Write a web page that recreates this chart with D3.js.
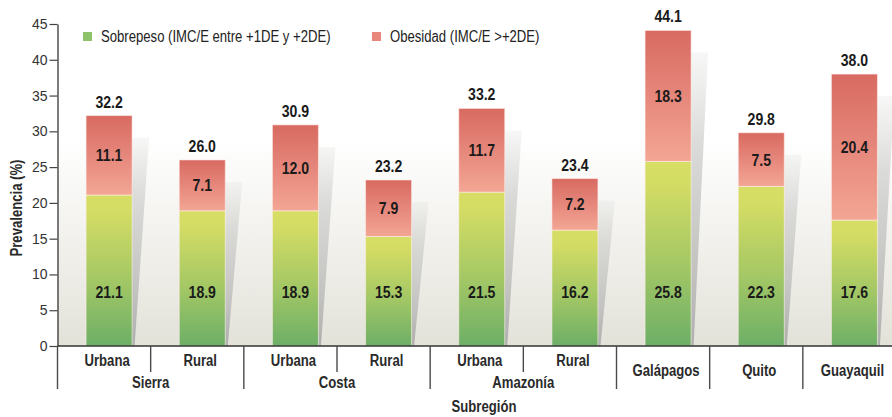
<!DOCTYPE html>
<html>
<head>
<meta charset="utf-8">
<script src="https://cdn.jsdelivr.net/npm/d3@7"></script>
<style>
  html, body { margin: 0; padding: 0; background: #fff; }
  svg { display: block; }
  text { font-family: "Liberation Sans", Arial, Helvetica, sans-serif; }
</style>
</head>
<body>
<svg id="chart" width="892" height="417"></svg>
<script>
// Prevalencia de sobrepeso y obesidad por subregión
const subregions = ["Urbana", "Rural", "Urbana", "Rural", "Urbana", "Rural", "Galápagos", "Quito", "Guayaquil"];
const regions = ["Sierra", "Sierra", "Costa", "Costa", "Amazonía", "Amazonía", null, null, null];
const sobrepeso = [21.1, 18.9, 18.9, 15.3, 21.5, 16.2, 25.8, 22.3, 17.6];
const obesidad = [11.1, 7.1, 12.0, 7.9, 11.7, 7.2, 18.3, 7.5, 20.4];
const totals = [32.2, 26.0, 30.9, 23.2, 33.2, 23.4, 44.1, 29.8, 38.0];
const yTicks = [0, 5, 10, 15, 20, 25, 30, 35, 40, 45];
const seriesNames = ["Sobrepeso (IMC/E entre +1DE y +2DE)", "Obesidad (IMC/E >+2DE)"];
const yTitle = "Prevalencia (%)";
const xTitle = "Subregión";

const W = 892, H = 417;
const axisX = 57.5;
const svg = d3.select("#chart");
const defs = svg.append("defs");

const y = d3.scaleLinear().domain([0, 45]).range([346, 24]);
const x = d3.scaleBand().domain(d3.range(subregions.length)).range([axisX, 896]).padding(0);
const barW = 46;
const barLeft = i => x(i) + (x.bandwidth() - barW) / 2 + 5;
const barMid = i => barLeft(i) + barW / 2;

// narrow type: regular sans squeezed horizontally
function narrow(sel, px, py, sx) {
  return sel.attr("x", 0).attr("y", 0)
    .attr("transform", function (d, i) {
      return `translate(${typeof px === "function" ? px(d, i) : px},${typeof py === "function" ? py(d, i) : py}) scale(${sx},1)`;
    });
}

// gradients
function vGrad(id, stops, units) {
  const g = defs.append("linearGradient").attr("id", id)
    .attr("x1", 0).attr("x2", 0).attr("y1", 0).attr("y2", 1);
  if (units) g.attr("gradientUnits", units);
  stops.forEach(([o, c, op]) => g.append("stop").attr("offset", o).attr("stop-color", c)
    .attr("stop-opacity", op === undefined ? 1 : op));
  return g;
}
vGrad("gGreen", [[0, "#d7de65"], [0.12, "#d3dc64"], [0.55, "#a5c865"], [1, "#6daf67"]]);
vGrad("gRed", [[0, "#d86a61"], [0.5, "#e6877b"], [1, "#f3a694"]]);
vGrad("gShadow", [[0, "#d6d6d4", 0.2], [0.3, "#d0d0ce", 0.75], [0.75, "#c2c2c0", 1], [1, "#aeaeac", 1]]);
vGrad("gBack", [[0, "#ffffff"], [0.4, "#ffffff"], [0.75, "#efeee9"], [1, "#e3e2d9"]], "userSpaceOnUse")
  .attr("y1", 0).attr("y2", 346);

// plot background
svg.append("rect")
  .attr("x", axisX).attr("y", 0)
  .attr("width", W - axisX).attr("height", y(0))
  .attr("fill", "url(#gBack)");

// bar shadows
svg.append("g").selectAll("polygon")
  .data(totals)
  .join("polygon")
  .attr("points", (t, i) => {
    const xr = barLeft(i) + barW;
    const top = y(t) + 22;
    return [[xr, top], [xr + 17, top], [xr + 2.5, y(0)], [xr, y(0)]].map(p => p.join(",")).join(" ");
  })
  .attr("fill", "url(#gShadow)");

// stacked bars
const stackRows = sobrepeso.map((s, i) => ({ i, sobrepeso: s, obesidad: obesidad[i] }));
const stacked = d3.stack().keys(["sobrepeso", "obesidad"])(stackRows);
const fills = ["url(#gGreen)", "url(#gRed)"];

svg.append("g").selectAll("g")
  .data(stacked)
  .join("g")
  .attr("fill", (s, k) => fills[k])
  .selectAll("rect")
  .data(s => s)
  .join("rect")
  .attr("x", d => barLeft(d.data.i))
  .attr("width", barW)
  .attr("y", d => y(d[1]))
  .attr("height", d => y(d[0]) - y(d[1]))
  .attr("stroke", "rgba(255,240,236,0.55)")
  .attr("stroke-width", 1);

// value labels
const valG = svg.append("g")
  .attr("font-weight", "bold").attr("font-size", 16)
  .attr("fill", "#1a1a1a").attr("text-anchor", "middle");

narrow(valG.selectAll("text.tot").data(totals).join("text").attr("class", "tot"),
  (t, i) => barMid(i), t => y(t) - 8, 0.88)
  .text(t => t.toFixed(1));

narrow(valG.selectAll("text.ob").data(stacked[1]).join("text").attr("class", "ob"),
  d => barMid(d.data.i), d => (y(d[0]) + y(d[1])) / 2 + 6, 0.88)
  .text(d => d.data.obesidad.toFixed(1));

narrow(valG.selectAll("text.sp").data(sobrepeso).join("text").attr("class", "sp"),
  (v, i) => barMid(i), y(7.5) + 6, 0.88)
  .text(v => v.toFixed(1));

// y axis
const yAxis = svg.append("g")
  .attr("transform", `translate(${axisX},0)`)
  .call(d3.axisLeft(y).tickValues(yTicks).tickSize(8).tickPadding(2).tickSizeOuter(0));
yAxis.select(".domain").attr("stroke", "#444").attr("stroke-width", 1.4);
yAxis.selectAll(".tick line").attr("stroke", "#444").attr("stroke-width", 1.2);
yAxis.selectAll(".tick text")
  .attr("font-family", "'Liberation Sans', Arial, sans-serif")
  .attr("font-size", 14).attr("fill", "#333");

// x baseline and category separators
const sep = svg.append("g").attr("stroke", "#4a4a4a").attr("stroke-width", 1.4);
sep.append("line").attr("x1", axisX).attr("x2", W).attr("y1", y(0)).attr("y2", y(0))
  .attr("stroke", "#333").attr("stroke-width", 1.6);
sep.append("line").attr("x1", axisX).attr("x2", axisX).attr("y1", y(0)).attr("y2", 389);
d3.range(1, subregions.length).forEach(b => {
  const inner = regions[b] !== null && regions[b] === regions[b - 1];
  sep.append("line")
    .attr("x1", x(b)).attr("x2", x(b))
    .attr("y1", y(0)).attr("y2", inner ? 372 : 389);
});

// category labels
const catG = svg.append("g")
  .attr("font-weight", "bold").attr("font-size", 16)
  .attr("fill", "#2a2a2a").attr("text-anchor", "middle");
narrow(catG.selectAll("text.sub").data(subregions).join("text").attr("class", "sub"),
  (s, i) => x(i) + x.bandwidth() / 2 + 3, (s, i) => regions[i] ? 365.5 : 376, 0.82)
  .text(s => s);

const regionNames = Array.from(new Set(regions.filter(r => r)));
narrow(catG.selectAll("text.reg").data(regionNames).join("text").attr("class", "reg"),
  r => x(regions.lastIndexOf(r)), 388, 0.82)
  .text(r => r);

// axis titles
svg.append("text")
  .attr("transform", "translate(22,208) rotate(-90) scale(0.82,1)")
  .attr("text-anchor", "middle").attr("font-weight", "bold").attr("font-size", 16)
  .attr("fill", "#2a2a2a")
  .text(yTitle);
narrow(svg.append("text")
  .attr("text-anchor", "middle").attr("font-weight", "bold").attr("font-size", 16)
  .attr("fill", "#2a2a2a"), 484, 412, 0.82)
  .text(xTitle);

// legend
const legendColors = ["#8fc36b", "#e8887d"];
const legendX = [83, 372];
const leg = svg.append("g").selectAll("g").data(seriesNames).join("g")
  .attr("transform", (n, i) => `translate(${legendX[i]},32)`);
leg.append("rect").attr("width", 9).attr("height", 9).attr("fill", (n, i) => legendColors[i]);
narrow(leg.append("text").attr("font-size", 16).attr("fill", "#222"), 18, 9.7, 0.82)
  .text(n => n);
</script>
</body>
</html>
